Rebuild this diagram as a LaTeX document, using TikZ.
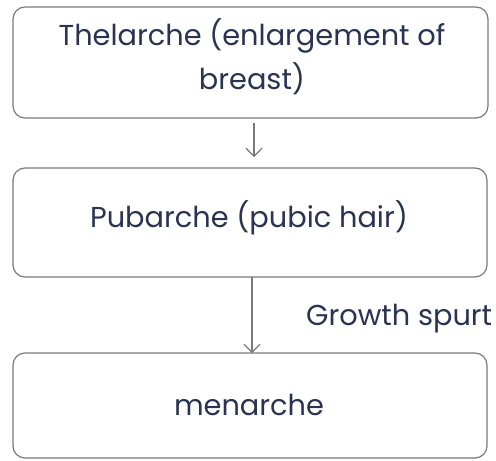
\documentclass[tikz,border=0pt]{standalone}
\usepackage{fontspec}
\setmainfont{Poppins}
\usetikzlibrary{arrows.meta}
\definecolor{inkc}{HTML}{2B3352}
\definecolor{linec}{HTML}{7A7A7A}
\begin{document}
\begin{tikzpicture}[x=1pt,y=-1pt,
  stagebox/.style={draw=linec,line width=1.2pt,rounded corners=12pt,fill=white},
  lab/.style={text=inkc,font=\fontsize{28.8}{44}\selectfont,align=center},
  flow/.style={draw=linec,line width=1.1pt,-{Straight Barb[length=8pt,width=16pt]}}]
\useasboundingbox (0,0) rectangle (496,461);
\fill[white] (0,0) rectangle (496,461);
\draw[stagebox] (13,7) rectangle (488,118);
\draw[stagebox] (13,168) rectangle (487,277);
\draw[stagebox] (13,353) rectangle (487,458);
\node[lab] (t) at (252,57) {Thelarche (enlargement of\\breast)};
\node[lab,anchor=base] (p) at (249,227) {Pubarche (pubic hair)};
\node[lab,anchor=base] (m) at (249,415) {menarche};
\coordinate (a1s) at (254,123);
\coordinate (a1e) at (254,157);
\coordinate (a2s) at (252,277);
\coordinate (a2e) at (252,353);
\draw[flow] (a1s) -- (a1e);
\draw[flow] (a2s) -- (a2e);
\node[lab,anchor=base west,inner sep=0pt] (g) at (306,325) {Growth spurt};
\end{tikzpicture}
\end{document}
